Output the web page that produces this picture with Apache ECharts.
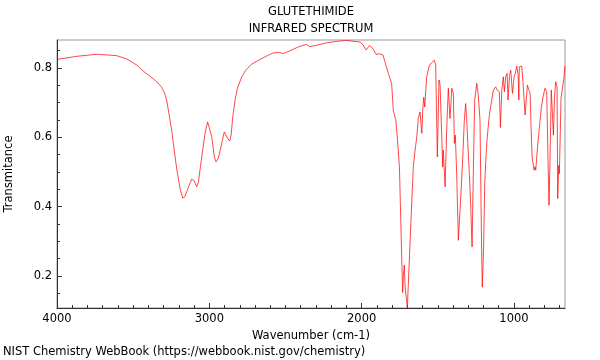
<!DOCTYPE html>
<html>
<head>
<meta charset="utf-8">
<script src="https://cdn.jsdelivr.net/npm/echarts@6/dist/echarts.min.js"></script>
<style>html,body{margin:0;padding:0;background:#fff}#chart{width:600px;height:360px}</style>
</head>
<body>
<div id="chart"></div>
<script>
const wavenumbers = [
  4000, 3870, 3740, 3610, 3540, 3477, 3433, 3390, 3346, 3315,
  3295, 3280, 3260, 3247, 3236, 3214, 3192, 3175, 3160, 3138,
  3116, 3100, 3083, 3072, 3050, 3028, 3011, 2998, 2984, 2967,
  2956, 2941, 2919, 2902, 2891, 2879, 2866, 2857, 2846, 2831,
  2816, 2787, 2761, 2721, 2667, 2623, 2580, 2547, 2514, 2470,
  2426, 2383, 2361, 2339, 2295, 2229, 2163, 2098, 2065, 2010,
  1989, 1971, 1949, 1927, 1905, 1879, 1860, 1846, 1825, 1803,
  1792, 1776, 1766, 1752, 1743, 1737, 1731, 1726, 1720, 1715,
  1710, 1700, 1689, 1676, 1661, 1649, 1638, 1628, 1617, 1605,
  1599, 1592, 1586, 1573, 1557, 1540, 1523, 1514, 1503, 1492,
  1485, 1474, 1468, 1464, 1459, 1452, 1441, 1431, 1420, 1408,
  1398, 1391, 1385, 1376, 1365, 1354, 1345, 1336, 1326, 1317,
  1310, 1303, 1293, 1284, 1275, 1267, 1258, 1244, 1234, 1223,
  1216, 1212, 1208, 1203, 1199, 1192, 1183, 1177, 1165, 1157,
  1146, 1135, 1120, 1111, 1102, 1096, 1089, 1080, 1070, 1063,
  1054, 1045, 1039, 1030, 1021, 1010, 999, 991, 982, 973,
  968, 965, 949, 941, 927, 912, 894, 888, 881, 868,
  862, 857, 847, 833, 820, 807, 796, 785, 776, 770,
  763, 755, 748, 741, 734, 726, 717, 713, 706, 702,
  691, 680, 671, 665
];
const transmittance = [
  0.824, 0.833, 0.839, 0.835, 0.825, 0.808, 0.790, 0.776, 0.760, 0.745,
  0.728, 0.707, 0.655, 0.620, 0.582, 0.508, 0.452, 0.425, 0.429, 0.455,
  0.479, 0.475, 0.457, 0.470, 0.543, 0.611, 0.644, 0.649, 0.601, 0.543,
  0.529, 0.539, 0.582, 0.615, 0.618, 0.596, 0.589, 0.606, 0.659, 0.707,
  0.741, 0.774, 0.793, 0.811, 0.824, 0.834, 0.843, 0.844, 0.841, 0.849,
  0.858, 0.865, 0.867, 0.861, 0.865, 0.872, 0.876, 0.879, 0.877, 0.874,
  0.865, 0.851, 0.864, 0.856, 0.839, 0.840, 0.837, 0.815, 0.784, 0.755,
  0.676, 0.650, 0.601, 0.514, 0.360, 0.255, 0.153, 0.200, 0.232, 0.175,
  0.149, 0.108, 0.226, 0.361, 0.514, 0.563, 0.601, 0.654, 0.673, 0.611,
  0.678, 0.715, 0.687, 0.774, 0.805, 0.815, 0.822, 0.808, 0.543, 0.765,
  0.750, 0.601, 0.514, 0.563, 0.563, 0.457, 0.630, 0.741, 0.654, 0.741,
  0.726, 0.582, 0.606, 0.495, 0.303, 0.390, 0.385, 0.543, 0.649, 0.697,
  0.649, 0.582, 0.495, 0.404, 0.284, 0.495, 0.707, 0.755, 0.721, 0.649,
  0.400, 0.274, 0.168, 0.230, 0.290, 0.467, 0.550, 0.591, 0.650, 0.678,
  0.707, 0.736, 0.745, 0.736, 0.741, 0.731, 0.628, 0.736, 0.774, 0.731,
  0.774, 0.784, 0.707, 0.774, 0.793, 0.726, 0.774, 0.784, 0.805, 0.780,
  0.707, 0.803, 0.805, 0.760, 0.664, 0.750, 0.726, 0.630, 0.543, 0.505,
  0.515, 0.505, 0.563, 0.630, 0.687, 0.721, 0.741, 0.731, 0.524, 0.404,
  0.543, 0.736, 0.738, 0.606, 0.716, 0.760, 0.745, 0.423, 0.519, 0.495,
  0.712, 0.716, 0.774, 0.805
];
const xMajorTicks = [1000, 2000, 3000, 4000];
const xMinorTicks = [700, 800, 900, 1100, 1200, 1300, 1400, 1500, 1600, 1700, 1800, 1900,
  2100, 2200, 2300, 2400, 2500, 2600, 2700, 2800, 2900, 3100, 3200, 3300, 3400, 3500,
  3600, 3700, 3800, 3900];
const yMajorTicks = [0.2, 0.4, 0.6, 0.8];
const yMinorTicks = [0.15, 0.25, 0.3, 0.35, 0.45, 0.5, 0.55, 0.65, 0.7, 0.75, 0.85];

const titleLines = ['GLUTETHIMIDE', 'INFRARED SPECTRUM'];
const xName = 'Wavenumber (cm-1)';
const yName = 'Transmitance';
const footer = 'NIST Chemistry WebBook (https://webbook.nist.gov/chemistry)';

const X_MIN = 665, X_MAX = 4000, Y_MIN = 0.108, Y_MAX = 0.880;
const FONT = 'DejaVu Sans';
const FS = 11.5;
const textColor = '#000';

const chart = echarts.init(document.getElementById('chart'), null, {renderer: 'canvas'});
const seriesData = wavenumbers.map((w, i) => [w, transmittance[i]]);

const baseX = {
  type: 'value', min: X_MIN, max: X_MAX, inverse: true, position: 'bottom',
  splitLine: {show: false}
};
const baseY = {
  type: 'value', min: Y_MIN, max: Y_MAX, position: 'left',
  splitLine: {show: false}
};
const fontStr = FS + 'px "DejaVu Sans"';

chart.setOption({
  animation: false,
  backgroundColor: '#fff',
  grid: {left: 57, right: 35, top: 40, bottom: 52, containLabel: false, outerBoundsMode: 'none',
    show: true, borderColor: '#999', borderWidth: 1, backgroundColor: 'transparent'},
  xAxis: [
    Object.assign({}, baseX, {
      name: xName, nameLocation: 'middle', nameGap: 18,
      nameTextStyle: {fontFamily: FONT, fontSize: FS, color: textColor},
      axisLine: {show: true, lineStyle: {color: '#333', width: 1}},
      axisTick: {show: true, inside: true, length: 5, customValues: xMajorTicks, lineStyle: {color: '#333'}},
      axisLabel: {show: true, margin: 5, customValues: xMajorTicks, fontFamily: FONT, fontSize: FS, color: textColor,
        formatter: v => String(v)}
    }),
    Object.assign({}, baseX, {
      axisLine: {show: false},
      axisTick: {show: true, inside: true, length: 3, customValues: xMinorTicks, lineStyle: {color: '#333'}},
      axisLabel: {show: false}
    })
  ],
  yAxis: [
    Object.assign({}, baseY, {
      name: yName, nameLocation: 'middle', nameGap: 42, nameRotate: 90,
      nameTextStyle: {fontFamily: FONT, fontSize: FS, color: textColor},
      axisLine: {show: true, lineStyle: {color: '#333', width: 1}},
      axisTick: {show: true, inside: true, length: 5, customValues: yMajorTicks, lineStyle: {color: '#333'}},
      axisLabel: {show: true, margin: 5, customValues: yMajorTicks, fontFamily: FONT, fontSize: FS, color: textColor,
        formatter: v => v.toFixed(1)}
    }),
    Object.assign({}, baseY, {
      axisLine: {show: false},
      axisTick: {show: true, inside: true, length: 3, customValues: yMinorTicks, lineStyle: {color: '#333'}},
      axisLabel: {show: false}
    })
  ],
  graphic: [
    {type: 'text', x: 311, y: 12.5, style: {text: titleLines[0], font: fontStr, fill: textColor, align: 'center', verticalAlign: 'middle'}},
    {type: 'text', x: 311, y: 29.5, style: {text: titleLines[1], font: fontStr, fill: textColor, align: 'center', verticalAlign: 'middle'}},
    {type: 'text', x: 3, y: 352.5, style: {text: footer, font: fontStr, fill: textColor, align: 'left', verticalAlign: 'middle'}}
  ],
  series: [{
    type: 'line', xAxisIndex: 0, yAxisIndex: 0,
    data: seriesData, showSymbol: false, symbol: 'none', smooth: false, clip: true,
    lineStyle: {color: 'rgba(255,0,0,0.72)', width: 1}
  }]
});
</script>
</body>
</html>
